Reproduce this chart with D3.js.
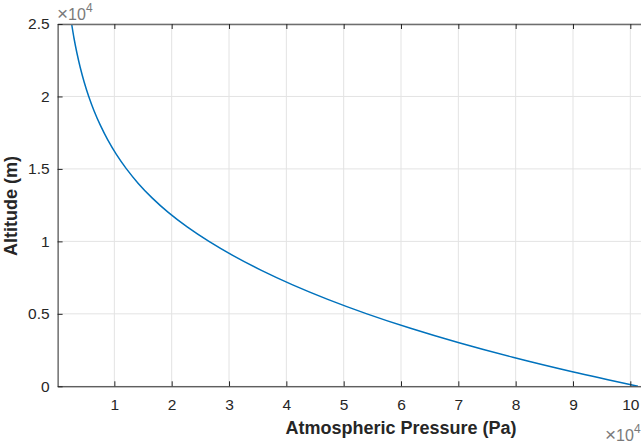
<!DOCTYPE html>
<html>
<head>
<meta charset="utf-8">
<script src="https://cdn.jsdelivr.net/npm/d3@7"></script>
<style>
  body { margin: 0; background: #fff; }
  svg { display: block; font-family: "Liberation Sans", Arial, sans-serif; }
</style>
</head>
<body>
<div id="chart"></div>
<script>
// values (altitude in m, pressure in Pa)
var altitude = [0, 1000, 2000, 3000, 4000, 5000, 6000, 7000, 8000, 9000, 10000, 11000, 12000,
    13000, 14000, 15000, 16000, 17000, 18000, 19000, 20000, 21000, 22000, 23000, 24000, 25000];
var pressure = [101325, 89880, 79500, 70120, 61660, 54050, 47220, 41100, 35650, 30800, 26500, 22700, 19400,
    16580, 14170, 12110, 10350, 8850, 7570, 6470, 5530, 4730, 4050, 3470, 2970, 2550];

var xTicks = [10000, 20000, 30000, 40000, 50000, 60000, 70000, 80000, 90000, 100000];
var xTickLabels = ["1", "2", "3", "4", "5", "6", "7", "8", "9", "10"];
var yTicks = [0, 5000, 10000, 15000, 20000, 25000];
var yTickLabels = ["0", "0.5", "1", "1.5", "2", "2.5"];

var width = 641, height = 446;
var plotLeft = 57.6, plotTop = 24, plotBottom = 386.3;

var svg = d3.select("#chart").append("svg")
    .attr("width", width)
    .attr("height", height);

var x = d3.scaleLinear()
    .domain([100, 102500])
    .range([plotLeft, plotLeft + 102400 / 10000 * 57.33]);
var y = d3.scaleLinear()
    .domain([0, 25000])
    .range([plotBottom, plotTop]);

svg.append("defs").append("clipPath").attr("id", "clip")
    .append("rect")
    .attr("x", plotLeft).attr("y", plotTop)
    .attr("width", x.range()[1] - plotLeft).attr("height", plotBottom - plotTop);

// grid
var grid = svg.append("g");
grid.selectAll(".gx").data(xTicks).enter().append("line")
    .attr("x1", d => x(d)).attr("x2", d => x(d))
    .attr("y1", plotTop).attr("y2", plotBottom)
    .attr("stroke", "#e3e3e3").attr("stroke-width", 1);
grid.selectAll(".gy").data(yTicks).enter().append("line")
    .attr("x1", plotLeft).attr("x2", x.range()[1])
    .attr("y1", d => y(d)).attr("y2", d => y(d))
    .attr("stroke", "#e3e3e3").attr("stroke-width", 1);

// curve
var pts = altitude.map((a, i) => [pressure[i], a]);
var line = d3.line()
    .x(d => x(d[0]))
    .y(d => y(d[1]))
    .curve(d3.curveCatmullRom);
svg.append("path")
    .datum(pts)
    .attr("clip-path", "url(#clip)")
    .attr("d", line)
    .attr("fill", "none")
    .attr("stroke", "#0072BD")
    .attr("stroke-width", 1.5);

// axes
var xAxis = d3.axisBottom(x).tickValues(xTicks)
    .tickFormat((d, i) => xTickLabels[i]).tickSizeInner(-5).tickSizeOuter(0).tickPadding(13);
var xAxisTop = d3.axisTop(x).tickValues(xTicks)
    .tickFormat("").tickSizeInner(-5).tickSizeOuter(0);
var yAxis = d3.axisLeft(y).tickValues(yTicks)
    .tickFormat((d, i) => yTickLabels[i]).tickSizeInner(-5).tickSizeOuter(0).tickPadding(8);

function styleAxis(g) {
    g.select(".domain").attr("stroke", "#262626").attr("stroke-width", 1);
    g.selectAll(".tick line").attr("stroke", "#262626");
    g.selectAll(".tick text").attr("fill", "#262626").attr("font-size", 15.5)
        .attr("font-family", "Liberation Sans, Arial, sans-serif");
}

svg.append("g").attr("transform", "translate(0," + plotBottom + ")").call(xAxis).call(styleAxis);
svg.append("g").attr("transform", "translate(0," + plotTop + ")").call(xAxisTop).call(styleAxis)
    .select(".domain").attr("stroke", "#6e6e6e").attr("stroke-width", 1.5);
svg.append("g").attr("transform", "translate(" + plotLeft + ",0)").call(yAxis).call(styleAxis);

// exponent labels
function exponent(px, py) {
    var t = svg.append("text").attr("x", px).attr("y", py)
        .attr("fill", "#7a7a7a").attr("font-size", 16);
    t.append("tspan").attr("font-size", 19).text("\u00d7");
    t.append("tspan").text("10");
    t.append("tspan").attr("font-size", 12).attr("dy", -8).text("4");
}
exponent(57, 20);
exponent(605, 441);

// axis labels
svg.append("text")
    .attr("x", 401).attr("y", 434)
    .attr("text-anchor", "middle")
    .attr("font-size", 18).attr("font-weight", "bold")
    .attr("fill", "#262626")
    .text("Atmospheric Pressure (Pa)");
svg.append("text")
    .attr("transform", "translate(17," + 206 + ") rotate(-90)")
    .attr("text-anchor", "middle")
    .attr("font-size", 18).attr("font-weight", "bold")
    .attr("fill", "#262626")
    .text("Altitude (m)");
</script>
</body>
</html>
